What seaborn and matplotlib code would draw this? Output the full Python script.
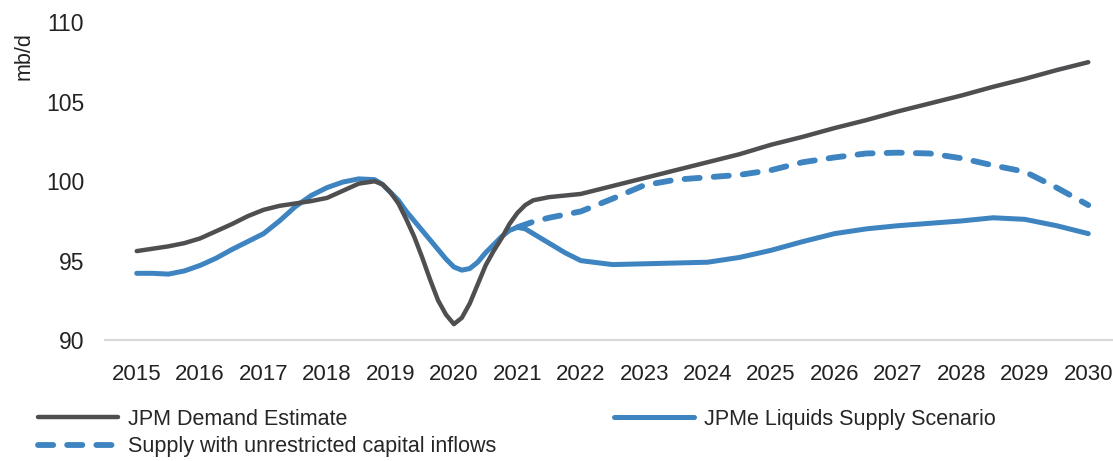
import matplotlib.pyplot as plt
import numpy as np
import pandas as pd
import seaborn as sns

sns.set_style("white")
plt.rcParams['font.family'] = ['Liberation Sans', 'DejaVu Sans']

# -------------------------------------------------------------------
# Data (mb/d)
# -------------------------------------------------------------------
years = list(range(2015, 2031))

# quarterly readings up to 2022 (finer around the 2020 dip), half-yearly after
periods = [2015.0, 2015.25, 2015.5, 2015.75, 2016.0, 2016.25, 2016.5, 2016.75,
           2017.0, 2017.25, 2017.5, 2017.75, 2018.0, 2018.25, 2018.5, 2018.75,
           2018.875, 2019.0, 2019.125, 2019.25, 2019.375, 2019.5, 2019.625, 2019.75,
           2019.875, 2020.0, 2020.125, 2020.25, 2020.375, 2020.5, 2020.625, 2020.75,
           2020.875, 2021.0, 2021.125, 2021.25, 2021.5, 2021.75,
           2022.0, 2022.5, 2023.0, 2023.5, 2024.0, 2024.5, 2025.0, 2025.5,
           2026.0, 2026.5, 2027.0, 2027.5, 2028.0, 2028.5, 2029.0, 2029.5, 2030.0]

demand = [95.6, 95.75, 95.9, 96.1, 96.4, 96.85, 97.3, 97.8,
          98.2, 98.45, 98.6, 98.75, 98.95, 99.4, 99.85, 100.0,
          99.8, 99.3, 98.6, 97.6, 96.5, 95.2, 93.8, 92.5,
          91.6, 91.0, 91.4, 92.3, 93.5, 94.7, 95.6, 96.4,
          97.3, 98.0, 98.5, 98.8, 99.0, 99.1,
          99.2, 99.7, 100.2, 100.7, 101.2, 101.7, 102.3, 102.8,
          103.35, 103.85, 104.4, 104.9, 105.4, 105.95, 106.45, 107.0, 107.5]

supply = [94.2, 94.2, 94.15, 94.35, 94.7, 95.15, 95.7, 96.2,
          96.7, 97.5, 98.4, 99.1, 99.6, 99.95, 100.15, 100.1,
          99.8, 99.3, 98.8, 98.1, 97.5, 96.9, 96.3, 95.7,
          95.1, 94.6, 94.4, 94.5, 94.9, 95.5, 96.0, 96.5,
          96.9, 97.1, 97.0, 96.7, 96.1, 95.5,
          95.0, 94.75, 94.8, 94.85, 94.9, 95.2, 95.65, 96.2,
          96.7, 97.0, 97.2, 97.35, 97.5, 97.7, 97.6, 97.2, 96.7]

# unrestricted-capital case branches off in 2021
upside_periods = [2021.0, 2021.25, 2021.5, 2021.75, 2022.0, 2022.5, 2023.0, 2023.5,
                  2024.0, 2024.5, 2025.0, 2025.5, 2026.0, 2026.5, 2027.0, 2027.5,
                  2028.0, 2028.5, 2029.0, 2029.5, 2030.0]
upside = [97.1, 97.45, 97.7, 97.9, 98.1, 98.9, 99.75, 100.1,
          100.25, 100.4, 100.7, 101.2, 101.5, 101.75, 101.8, 101.75,
          101.45, 101.0, 100.6, 99.6, 98.5]

main_df = pd.DataFrame({'period': periods, 'demand': demand, 'supply': supply})
up_df = pd.DataFrame({'period': upside_periods, 'upside': upside})

GREY = '#4f4f52'
BLUE = '#3d84c0'

# -------------------------------------------------------------------
# Plot
# -------------------------------------------------------------------
fig = plt.figure(figsize=(11.13, 4.61), dpi=100)
ax = fig.add_axes([105 / 1113, 121 / 461, 1015 / 1113, 317.5 / 461])

sns.lineplot(data=up_df, x='period', y='upside', ax=ax, color=BLUE, lw=4.2,
             linestyle=(0, (2.6, 2.4)), dash_capstyle='round',
             label='Supply with unrestricted capital inflows')
sns.lineplot(data=main_df, x='period', y='supply', ax=ax, color=BLUE, lw=3.6,
             solid_capstyle='round', solid_joinstyle='round',
             label='JPMe Liquids Supply Scenario')
sns.lineplot(data=main_df, x='period', y='demand', ax=ax, color=GREY, lw=3.2,
             solid_capstyle='round', solid_joinstyle='round',
             label='JPM Demand Estimate')

ax.set_xlim(years[0] - 0.5, years[-1] + 0.5)
ax.set_ylim(90, 110)
ax.set_yticks([90, 95, 100, 105, 110])
ax.set_xticks(years)
ax.set_xticks([y - 0.5 for y in years] + [years[-1] + 0.5], minor=True)
ax.set_xlabel('')
ax.set_ylabel('')

for side in ['left', 'right', 'top']:
    ax.spines[side].set_visible(False)
ax.spines['bottom'].set_color('#d9d9d9')
ax.spines['bottom'].set_linewidth(1.5)

ax.tick_params(axis='y', length=0, pad=15, labelsize=16.5, labelcolor='#222222')
ax.tick_params(axis='x', which='major', length=0, pad=17, labelsize=16,
               labelcolor='#222222')
ax.tick_params(axis='x', which='minor', length=6, width=1.5, color='#d9d9d9',
               direction='out')

fig.text(24 / 1113, 1 - 56 / 461, 'mb/d', rotation=90, ha='center', va='center',
         fontsize=15.5, color='#222222')

# legend: demand + upside in first column, supply in second
handles, labels = ax.get_legend_handles_labels()
ax.get_legend().remove()
order = [2, 0, 1]
fig.legend([handles[i] for i in order], [labels[i] for i in order],
           ncol=2, loc='upper left', bbox_to_anchor=(38 / 1113, 1 - 409 / 461),
           frameon=False, fontsize=15.5, handlelength=3.7, handletextpad=0.5,
           columnspacing=5.45, labelspacing=0.3, borderpad=0, borderaxespad=0)

fig.savefig('out.png', dpi=100)
